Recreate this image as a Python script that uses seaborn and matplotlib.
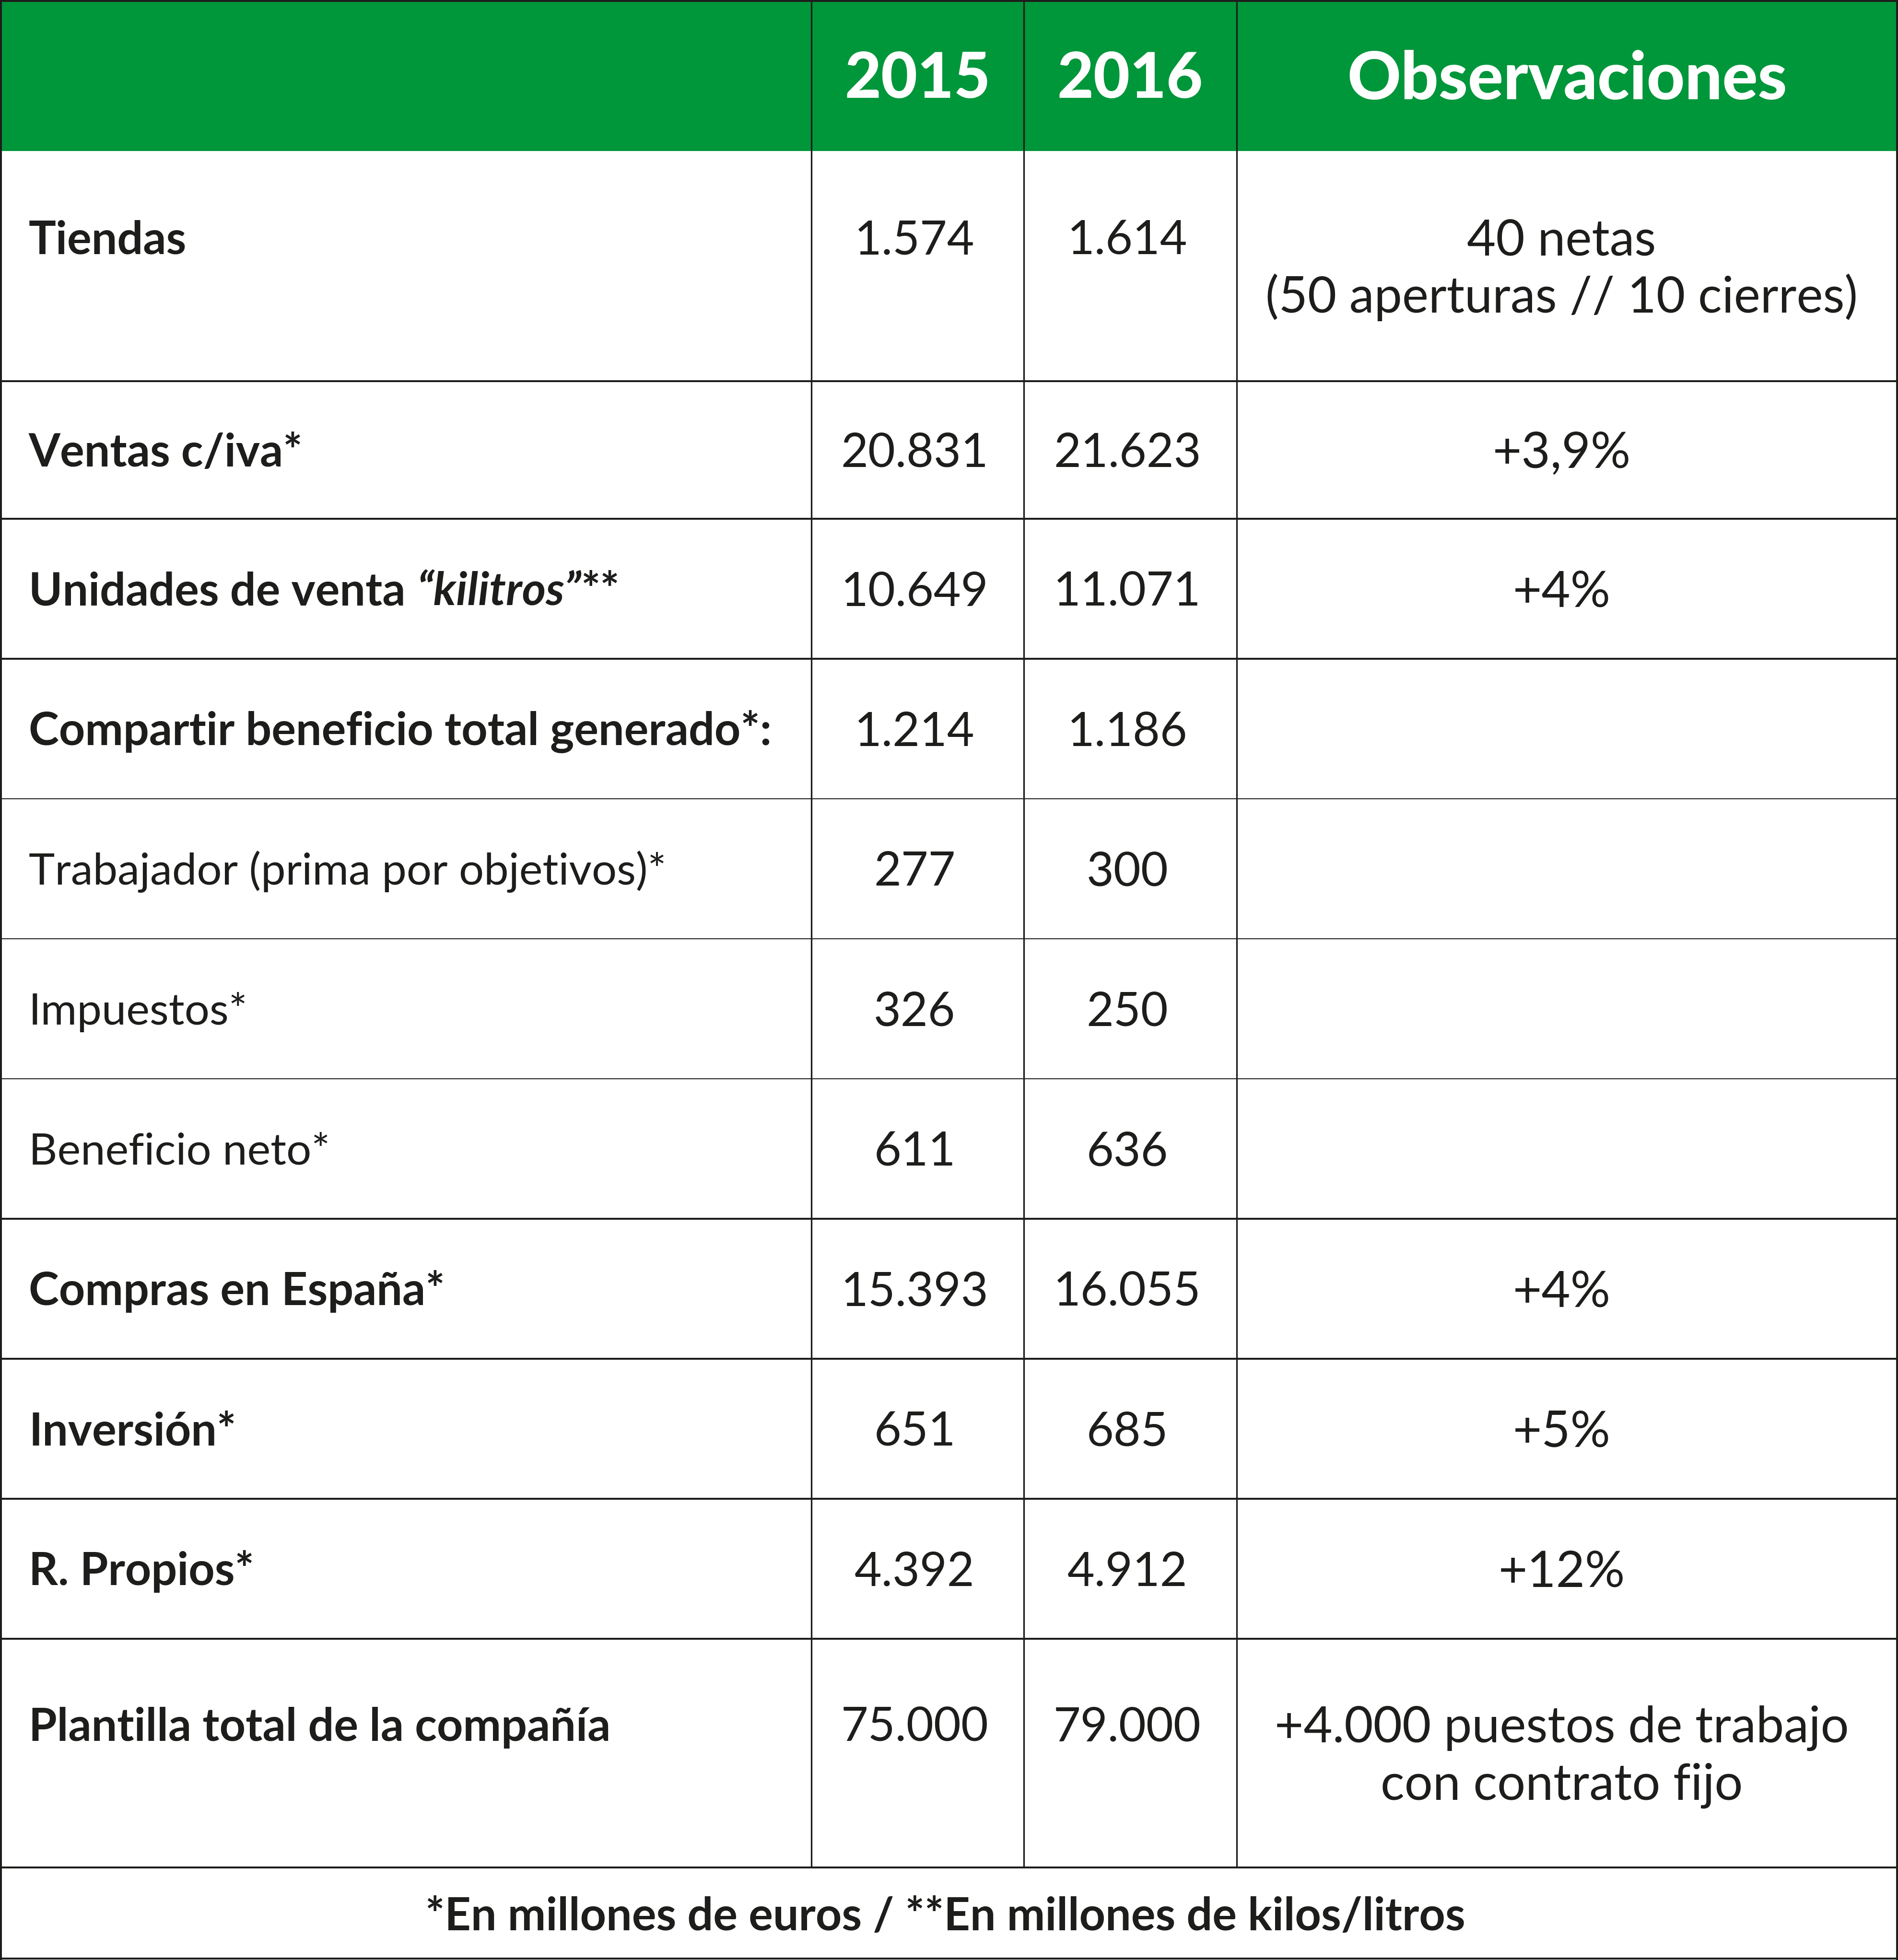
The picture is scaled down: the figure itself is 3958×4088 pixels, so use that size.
import matplotlib
matplotlib.use("Agg")
import matplotlib.pyplot as plt
import seaborn as sns

# Datos de la tabla
encabezados = ["", "2015", "2016", "Observaciones"]
conceptos = [
    "Tiendas",
    "Ventas c/iva*",
    "Unidades de venta “kilitros”**",
    "Compartir beneficio total generado*:",
    "Trabajador (prima por objetivos)*",
    "Impuestos*",
    "Beneficio neto*",
    "Compras en España*",
    "Inversión*",
    "R. Propios*",
    "Plantilla total de la compañía",
]
concepto_negrita = [True, True, True, True, False, False, False, True, True, True, True]
palabra_cursiva = {2: "“kilitros”"}
valores_2015 = ["1.574", "20.831", "10.649", "1.214", "277", "326", "611",
                "15.393", "651", "4.392", "75.000"]
valores_2016 = ["1.614", "21.623", "11.071", "1.186", "300", "250", "636",
                "16.055", "685", "4.912", "79.000"]
observaciones = [
    "40 netas\n(50 aperturas // 10 cierres)",
    "+3,9%", "+4%", "", "", "", "", "+4%", "+5%", "+12%",
    "+4.000 puestos de trabajo\ncon contrato fijo",
]
nota = "*En millones de euros / **En millones de kilos/litros"

# Estilo y geometria (en pixeles de la imagen)
W, H = 3958, 4088
DPI = 100
col_edges = [0, 1692, 2135, 2579, 3958]
row_edges = [0, 315, 795, 1082, 1374, 1666, 1958, 2250, 2542, 2834, 3126, 3418, 3895, 4088]
filas_finas = [5, 6, 7]

verde = "#00963a"
tinta = "#1d1d1b"
px = 72.0 / DPI  # puntos por pixel

# tamanos de letra en pixeles
label_px = {True: 95, False: 92}
num_px = 98
obs_px = 104
head_px = {"2015": 131, "2016": 131, "Observaciones": 138}
nota_px = 95
cap = 0.717  # altura de mayusculas de Lato

sns.set_theme(style="white")
plt.rcParams["font.family"] = ["Lato", "DejaVu Sans"]

fig = plt.figure(figsize=(W / DPI, H / DPI), dpi=DPI)
ax = fig.add_axes([0, 0, 1, 1])
ax.set_xlim(0, W)
ax.set_ylim(H, 0)
ax.axis("off")

# cabecera verde
ax.axhspan(row_edges[0], row_edges[1], color=verde, lw=0)


def baseline(yc, size):
    return yc + cap * size / 2.0


head_y = (row_edges[0] + row_edges[1]) / 2
for j, txt in enumerate(encabezados):
    if not txt:
        continue
    xc = (col_edges[j] + col_edges[j + 1]) / 2
    ax.text(xc, baseline(head_y, head_px[txt]), txt, ha="center", va="baseline",
            fontsize=head_px[txt] * px, fontweight="black", color="white")

gap = 120
for i, concepto in enumerate(conceptos):
    top, bot = row_edges[i + 1], row_edges[i + 2]
    yc = (top + bot) / 2
    lineas = observaciones[i].split("\n") if observaciones[i] else []
    n = max(len(lineas), 1)
    y_first = yc - gap * (n - 1) / 2
    peso = "bold" if concepto_negrita[i] else "normal"
    fs = label_px[concepto_negrita[i]]
    yb = baseline(y_first, fs)

    # concepto (con tramo en cursiva si aplica)
    if i in palabra_cursiva:
        w = palabra_cursiva[i]
        antes, despues = concepto.split(w)
        t = ax.text(60, yb, antes, ha="left", va="baseline",
                    fontsize=fs * px, fontweight=peso, color=tinta)
        t2 = ax.annotate(w, xy=(1, 0), xycoords=t, ha="left", va="bottom",
                         fontsize=fs * px, fontweight=peso, style="italic", color=tinta)
        ax.annotate(despues, xy=(1, 0), xycoords=t2, ha="left", va="bottom",
                    fontsize=fs * px, fontweight=peso, color=tinta)
    else:
        ax.text(60, yb, concepto, ha="left", va="baseline",
                fontsize=fs * px, fontweight=peso, color=tinta)

    for j, vals in ((1, valores_2015), (2, valores_2016)):
        xc = (col_edges[j] + col_edges[j + 1]) / 2 - 6
        ax.text(xc, baseline(y_first, num_px), vals[i], ha="center", va="baseline",
                fontsize=num_px * px, color=tinta)

    xc = (col_edges[3] + col_edges[4]) / 2 - 12
    for k, linea in enumerate(lineas):
        ax.text(xc, baseline(y_first + k * gap, obs_px), linea, ha="center",
                va="baseline", fontsize=obs_px * px, color=tinta)

# nota al pie
ax.text(W / 2 - 8, baseline((row_edges[-2] + row_edges[-1]) / 2, nota_px), nota,
        ha="center", va="baseline", fontsize=nota_px * px, fontweight="bold", color=tinta)

# lineas de la tabla
for k in range(2, len(row_edges) - 1):
    lw = 2 if k in filas_finas else 4
    ax.hlines(row_edges[k], 0, W, color=tinta, lw=lw * px)
for xv in col_edges[1:-1]:
    ax.vlines(xv, 0, row_edges[-2], color=tinta, lw=3.3 * px)
# marco exterior
ax.hlines([2, H - 2.5], 0, W, color=tinta, lw=4 * px)
ax.vlines([2, W - 2], 0, H, color=tinta, lw=4 * px)

fig.savefig("out.png", dpi=DPI, facecolor="white")
